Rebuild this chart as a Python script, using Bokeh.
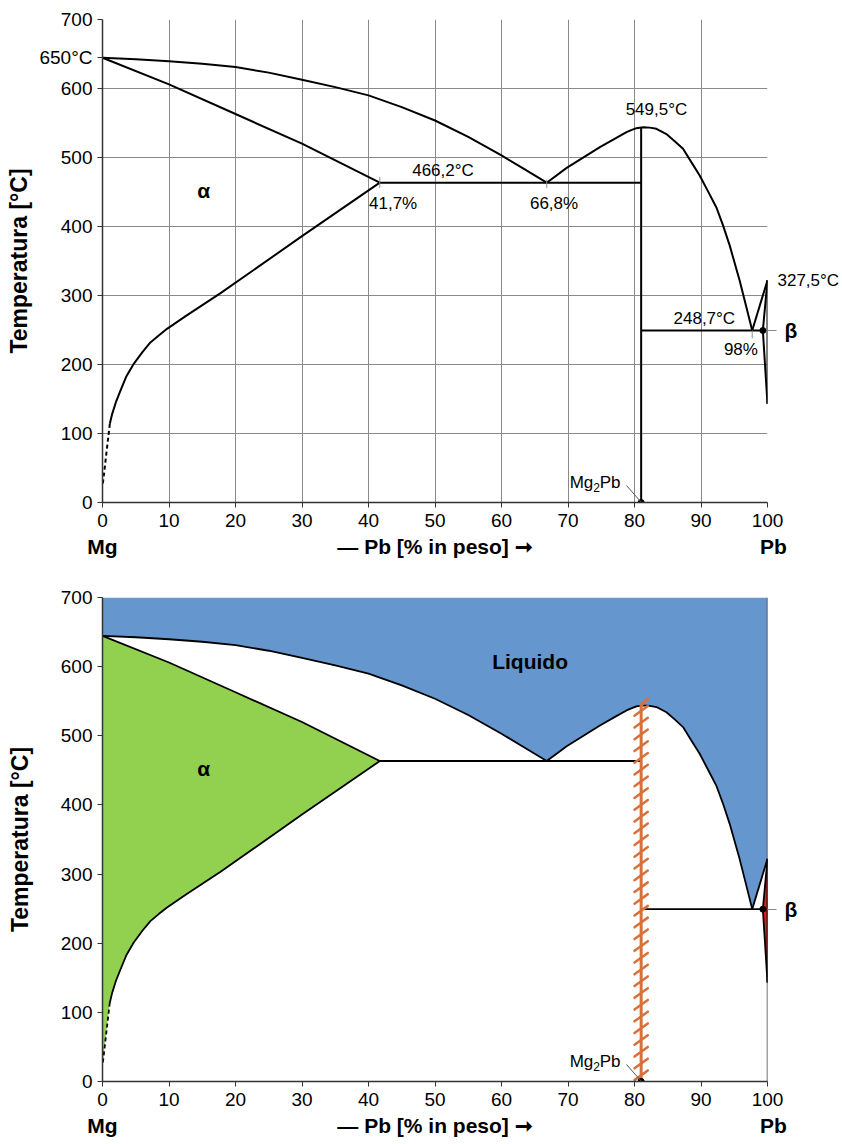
import numpy as np
from bokeh.plotting import figure
from bokeh.models import Range1d, FixedTicker, Label, LinearAxis
from bokeh.layouts import column
from bokeh.embed import file_html
from bokeh.resources import INLINE

# ---------------- data ----------------
x_ticks = list(range(0, 101, 10))
y_ticks = list(range(0, 701, 100))

# liquidus, Mg-rich side (Mg melting point -> eutectic 66.8 %)
liq_mg_x = [0, 5, 10, 15, 20, 25, 30, 35, 40, 45, 50, 55, 60, 63, 66.8]
liq_mg_t = [644.5, 642.5, 639.6, 636, 631, 623, 612.6, 602, 590, 573, 553.6, 530, 503, 485.6, 463.5]

# liquidus around Mg2Pb (eutectic 66.8 % -> max -> eutectic 98 %)
liq_mid_x = [66.8, 69.8, 74.8, 77.0, 78.8, 79.6, 80.3, 81.3, 82.3, 83.3, 84.8, 86.0, 87.3,
             88.5, 89.8, 91.0, 92.3, 93.3, 94.3, 95.8, 96.8, 97.7]
liq_mid_t = [463.5, 485, 515, 527, 536.7, 540, 542.5, 544, 543.3, 541.6, 534, 524, 512.6,
             494, 474, 452, 428, 402, 373, 322, 284, 249.3]

# liquidus, Pb-rich side
liq_pb_x = [97.7, 100]
liq_pb_t = [249.3, 322]

# alpha solidus
sol_a_x = [0, 10, 20, 30, 41.7]
sol_a_t = [644.5, 606, 563, 520, 463.5]

# alpha solvus (solid part) and its dashed extension
solv_a_x = [41.7, 30, 17.7, 12.5, 9.7, 8.5, 7.2, 6.0, 4.7, 3.6, 2.7, 2.0, 1.46, 1.1]
solv_a_t = [463.5, 386, 303, 270, 251.7, 242.5, 232, 218, 201, 183, 162, 145, 128.5, 114]
solv_a_dash_x = [1.1, 0.05]
solv_a_dash_t = [114, 27]

# beta solidus / solvus
beta_x = [100, 99.3, 100]
beta_t = [322, 249.3, 143]

# invariant lines
eut1_x = [41.7, 81.0]
eut1_t = 463.5
eut2_x = [81.0, 99.3]
eut2_t = 249.3
mg2pb_x = 81.0
mg2pb_tmax = 544
mg_melt_t = 645

FONT = "Liberation Sans"
BLUE = "#6596CD"
GREEN = "#92D050"
RED = "#EE1C1C"
ORANGE = "#D9703A"
GRAY = "#8a8a8a"


def text_axis(ticks, overrides, size, bold=False, standoff=5):
    ax = LinearAxis(ticker=FixedTicker(ticks=ticks), major_label_overrides=overrides)
    ax.axis_line_color = None
    ax.major_tick_line_color = None
    ax.minor_tick_line_color = None
    ax.major_tick_out = 0
    ax.major_tick_in = 0
    ax.major_label_text_font = FONT
    ax.major_label_text_color = "black"
    ax.major_label_text_font_size = size
    ax.major_label_text_font_style = "bold" if bold else "normal"
    ax.major_label_standoff = standoff
    return ax


def make_fig(height, border_top, border_bottom, grid, melt_labels):
    p = figure(width=842, height=height, x_range=Range1d(0, 100), y_range=Range1d(0, 700),
               output_backend="svg", toolbar_location=None,
               min_border_left=102, min_border_right=74,
               min_border_top=border_top, min_border_bottom=border_bottom)
    p.outline_line_color = None
    p.background_fill_color = "white"
    p.border_fill_color = "white"
    xa = p.xaxis[0]
    ya = p.yaxis[0]
    xa.ticker = FixedTicker(ticks=x_ticks)
    if melt_labels:
        ya.ticker = FixedTicker(ticks=y_ticks + [mg_melt_t])
        ya.major_label_overrides = {mg_melt_t: "650°C"}
    else:
        ya.ticker = FixedTicker(ticks=y_ticks)
    for ax in (xa, ya):
        ax.axis_line_color = "#333333"
        ax.axis_line_width = 1.5
        ax.major_tick_line_color = "#333333"
        ax.major_tick_out = 5
        ax.major_tick_in = 0
        ax.minor_tick_line_color = None
        ax.major_label_text_font = FONT
        ax.major_label_text_font_size = "19px"
        ax.major_label_text_color = "black"
    xa.major_label_standoff = 6
    ya.major_label_standoff = 5
    ya.axis_label = "Temperatura [°C]"
    ya.axis_label_text_font = FONT
    ya.axis_label_text_font_size = "23px"
    ya.axis_label_text_font_style = "bold"
    ya.axis_label_text_color = "black"
    ya.axis_label_standoff = 4 if melt_labels else 25
    p.xgrid.ticker = FixedTicker(ticks=x_ticks)
    p.ygrid.ticker = FixedTicker(ticks=y_ticks)
    if grid:
        p.grid.grid_line_color = GRAY
        p.grid.grid_line_width = 1
        p.grid.grid_line_alpha = 1
    else:
        p.grid.grid_line_color = None

    # second row under the x axis: Mg ... title ... Pb
    p.add_layout(text_axis([0, 50, 100],
                           {0: "Mg", 50: "— Pb [% in peso] ➞", 100: "\u00a0\u00a0Pb"},
                           "21px", bold=True, standoff=5), "below")
    # beta phase label with its short leader tick
    beta_ax = text_axis([249], {249: "β"}, "21px", bold=True, standoff=8)
    beta_ax.major_tick_line_color = GRAY
    beta_ax.major_tick_line_width = 1
    beta_ax.major_tick_out = 9
    p.add_layout(beta_ax, "right")
    if melt_labels:
        # Pb melting point, pulled back next to the frame
        p.add_layout(text_axis([liq_pb_t[1]], {liq_pb_t[1]: "327,5°C"}, "17px",
                               standoff=-23), "right")
    return p


def lab(p, x, y, text, size="17px", bold=False, align="center", baseline="middle"):
    p.add_layout(Label(x=x, y=y, text=text, text_font=FONT, text_font_size=size,
                       text_font_style="bold" if bold else "normal",
                       text_align=align, text_baseline=baseline, text_color="black"))


def mg2pb_label(p):
    lab(p, 77.9, 29.4, "Pb", align="right")
    lab(p, 74.8, 22, "2", size="12px", align="right")
    lab(p, 73.8, 29.4, "Mg", align="right")
    p.line([78.8, 81.0], [24.6, 0.5], line_color="#555555", line_width=1)


def boundaries(p, lw, compound_line=True):
    kw = dict(line_color="black", line_width=lw, line_join="round")
    p.line(liq_mg_x, liq_mg_t, **kw)
    p.line(liq_mid_x, liq_mid_t, **kw)
    p.line(liq_pb_x, liq_pb_t, **kw)
    p.line(sol_a_x, sol_a_t, **kw)
    p.line(solv_a_x, solv_a_t, **kw)
    p.line(solv_a_dash_x, solv_a_dash_t, line_color="black", line_width=lw, line_dash="4 3")
    p.line(beta_x, beta_t, **kw)
    p.line([100, 100], [beta_t[2], beta_t[0]], **kw)
    p.line(eut1_x, [eut1_t, eut1_t], **kw)
    p.line(eut2_x, [eut2_t, eut2_t], **kw)
    if compound_line:
        p.line([mg2pb_x, mg2pb_x], [0, mg2pb_tmax], **kw)
    p.scatter([eut2_x[1]], [eut2_t], size=6, color="black")
    p.scatter([mg2pb_x], [0], size=6, color="black")


# ---------------- top panel ----------------
top = make_fig(578, 19, 76, grid=True, melt_labels=True)
boundaries(top, 2)
# small marker ticks
top.segment(x0=[41.7, 66.8, 97.7], y0=[456, 456, 238], x1=[41.7, 66.8, 97.7],
            y1=[472, 468, 249.3], line_color=GRAY, line_width=1)
lab(top, 83.3, 569.6, "549,5°C")
lab(top, 51.2, 481, "466,2°C")
lab(top, 43.7, 433, "41,7%")
lab(top, 67.9, 433, "66,8%")
lab(top, 90.5, 267, "248,7°C")
lab(top, 96.0, 222, "98%")
lab(top, 15.2, 452, "α", size="21px", bold=True)
mg2pb_label(top)

# ---------------- bottom panel ----------------
bot = make_fig(566, 19, 63, grid=False, melt_labels=False)
liq_poly_x = [0] + liq_mg_x + liq_mid_x[1:] + [100, 100]
liq_poly_t = [700] + liq_mg_t + liq_mid_t[1:] + [liq_pb_t[1], 700]
bot.patch(liq_poly_x, liq_poly_t, fill_color=BLUE, line_color=None)
a_poly_x = sol_a_x + solv_a_x[1:] + [solv_a_dash_x[1], 0]
a_poly_t = sol_a_t + solv_a_t[1:] + [solv_a_dash_t[1], solv_a_dash_t[1]]
bot.patch(a_poly_x, a_poly_t, fill_color=GREEN, line_color=None)
bot.patch(beta_x, beta_t, fill_color=RED, line_color=None)
bot.line([100, 100], [0, 700], line_color="#444444", line_width=1.5)
boundaries(bot, 1.8, compound_line=False)

# hatched Mg2Pb compound line
hatch_t = np.arange(-8, mg2pb_tmax, 17.0)
bot.segment(x0=[mg2pb_x], y0=[-10], x1=[mg2pb_x], y1=[mg2pb_tmax + 3], line_color=ORANGE, line_width=3)
bot.segment(x0=mg2pb_x - 1.0, y0=hatch_t - 7, x1=mg2pb_x + 1.0, y1=hatch_t + 7,
            line_color=ORANGE, line_width=2.5, line_cap="round")
bot.segment(x0=[mg2pb_x], y0=[mg2pb_tmax], x1=[mg2pb_x + 1.0], y1=[mg2pb_tmax + 9],
            line_color=ORANGE, line_width=3, line_cap="round")
bot.scatter([mg2pb_x], [0], size=6, color="black")

lab(bot, 15.2, 453, "α", size="21px", bold=True)
lab(bot, 64.3, 608, "Liquido", size="21px", bold=True)
mg2pb_label(bot)

layout = column(top, bot, spacing=0)
open("out.html", "w").write(file_html(layout, INLINE))
